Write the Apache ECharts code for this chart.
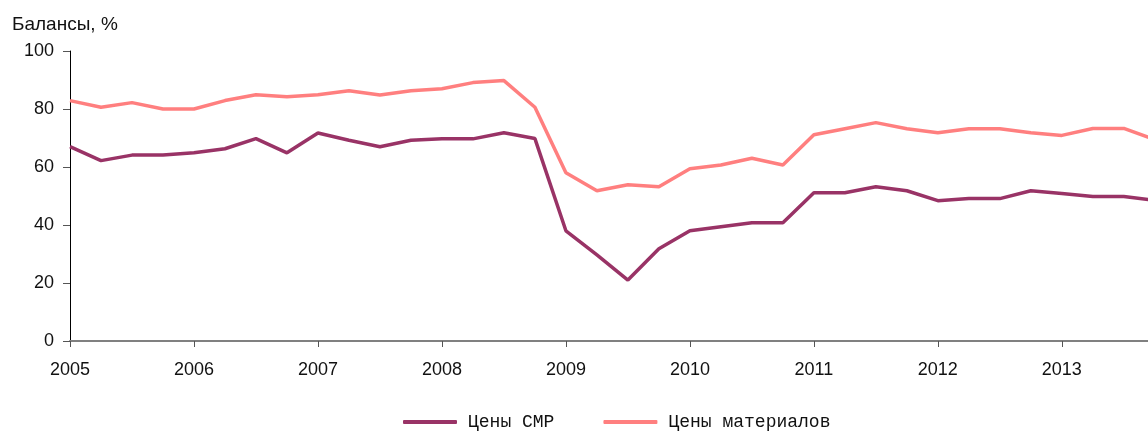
<!DOCTYPE html>
<html>
<head>
<meta charset="utf-8">
<script src="https://cdn.jsdelivr.net/npm/echarts@6/dist/echarts.min.js"></script>
<style>
  html, body { margin: 0; padding: 0; background: #fff; }
  #chart { width: 1148px; height: 432px; }
</style>
</head>
<body>
<div id="chart"></div>
<script>
'use strict';

// quarters, 2005 Q1 .. 2013 Q4
var quarters = [
    '2005Q1','2005Q2','2005Q3','2005Q4','2006Q1','2006Q2','2006Q3','2006Q4',
    '2007Q1','2007Q2','2007Q3','2007Q4','2008Q1','2008Q2','2008Q3','2008Q4',
    '2009Q1','2009Q2','2009Q3','2009Q4','2010Q1','2010Q2','2010Q3','2010Q4',
    '2011Q1','2011Q2','2011Q3','2011Q4','2012Q1','2012Q2','2012Q3','2012Q4',
    '2013Q1','2013Q2','2013Q3','2013Q4'
];

var smrPrices = [
    67, 62.2, 64.1, 64.1, 64.9, 66.3, 69.8, 64.9,
    71.7, 69.2, 67, 69.2, 69.7, 69.7, 71.8, 69.8,
    38, 29.7, 21, 31.8, 38, 39.4, 40.8, 40.8,
    51.1, 51.1, 53.2, 51.8, 48.4, 49.1, 49.1, 51.8,
    50.9, 49.8, 49.8, 48.5
];

var materialPrices = [
    82.9, 80.6, 82.2, 80, 80, 82.9, 84.9, 84.2,
    84.9, 86.3, 84.8, 86.3, 87, 89.1, 89.8, 80.6,
    58, 51.8, 53.9, 53.2, 59.4, 60.7, 63, 60.7,
    71.1, 73.2, 75.3, 73.2, 71.8, 73.2, 73.2, 71.8,
    70.9, 73.3, 73.3, 69.5
];

var yTicks = [0, 20, 40, 60, 80, 100];

function quarterPos(q) {
    return parseInt(q.slice(0, 4), 10) + (parseInt(q.slice(5), 10) - 1) / 4;
}

function toPairs(values) {
    return values.map(function(v, i) { return [quarterPos(quarters[i]), v]; });
}

var fontLabel = "'Liberation Sans', Arial, sans-serif";

var myChart = echarts.init(document.getElementById('chart'));

var option = {
    animation: false,
    backgroundColor: '#ffffff',
    title: {
        text: 'Балансы, %',
        left: 7,
        top: 10,
        textStyle: { fontFamily: fontLabel, fontSize: 19, fontWeight: 'normal', color: '#111' }
    },
    legend: {
        left: 398,
        top: 408,
        itemWidth: 54,
        itemHeight: 4,
        itemGap: 49,
        icon: 'roundRect',
        textStyle: {
            fontFamily: "'Liberation Mono', 'DejaVu Sans Mono', monospace",
            fontSize: 18, color: '#111', padding: [0, 0, 0, 6]
        },
        data: ['Цены СМР', 'Цены материалов']
    },
    grid: { left: 70, right: 0, top: 51, bottom: 91, containLabel: false },
    xAxis: {
        type: 'value',
        min: 2005,
        max: 2013.695,
        interval: 1,
        splitLine: { show: false },
        axisLine: { lineStyle: { color: '#808080', width: 2 } },
        axisTick: { length: 6, lineStyle: { color: '#555', width: 1 } },
        axisLabel: {
            margin: 20,
            fontFamily: fontLabel, fontSize: 18, color: '#111',
            showMaxLabel: false,
            formatter: function(v) { return v % 1 === 0 ? String(v) : ''; }
        }
    },
    yAxis: {
        type: 'value',
        min: yTicks[0],
        max: yTicks[yTicks.length - 1],
        interval: 20,
        splitLine: { show: false },
        axisLine: { show: true, lineStyle: { color: '#000', width: 1 } },
        axisTick: { show: true, length: 7, lineStyle: { color: '#555' } },
        axisLabel: { margin: 16, fontFamily: fontLabel, fontSize: 18, color: '#111' }
    },
    series: [
        {
            name: 'Цены СМР',
            type: 'line',
            symbol: 'none',
            data: toPairs(smrPrices),
            lineStyle: { color: '#993366', width: 3.5 },
            itemStyle: { color: '#993366' }
        },
        {
            name: 'Цены материалов',
            type: 'line',
            symbol: 'none',
            data: toPairs(materialPrices),
            lineStyle: { color: '#ff7f7f', width: 3.5 },
            itemStyle: { color: '#ff7f7f' }
        }
    ]
};

myChart.setOption(option);
</script>
</body>
</html>
